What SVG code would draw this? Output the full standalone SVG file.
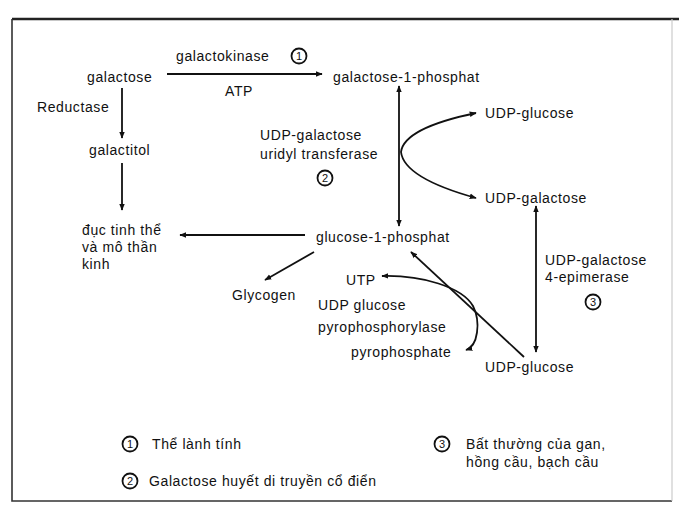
<svg xmlns="http://www.w3.org/2000/svg" width="679" height="509" viewBox="0 0 679 509">
<defs>
<marker id="ah" viewBox="0 0 10 10" refX="9" refY="5" markerWidth="7" markerHeight="7" markerUnits="userSpaceOnUse" orient="auto-start-reverse">
<path d="M0,1 L10,5 L0,9 Z" fill="#111"/>
</marker>
<style>
text{font-family:"Liberation Sans",Arial,sans-serif;font-size:14px;fill:#111;letter-spacing:0.6px}
.c{fill:none;stroke:#111;stroke-width:1.8}
.n{font-size:11px;text-anchor:middle;letter-spacing:0}
.e{fill:none;stroke:#111;stroke-width:1.8}
.s{marker-end:url(#ah)}
.d{marker-start:url(#ah);marker-end:url(#ah)}
</style>
</defs>
<rect width="679" height="509" fill="#fff"/>
<g id="frame" fill="none">
<path d="M12 19 H679" stroke="#222" stroke-width="2.5"/>
<path d="M12 19 V501 H672" stroke="#333" stroke-width="1.6"/>
<path d="M672 19 V501" stroke="#ccc" stroke-width="1.2"/>
</g>
<g id="connectors">
<path class="e s" d="M167 74 H322"/>
<path class="e s" d="M122 88 V138"/>
<path class="e s" d="M122 163 V210"/>
<path class="e s" d="M305 235 H180"/>
<path class="e d" d="M399 226 V86"/>
<path class="e d" d="M476 113 Q404 128 401 152 Q404 178 476 198"/>
<path class="e d" d="M536 352 V206"/>
<path class="e s" d="M314 252 L265 280"/>
<path class="e s" d="M524 357 L411 252"/>
<path class="e d" d="M466 350 C478 346 481 322 473 306 C462 287 422 275 382 276"/>
</g>
<g id="galactose"><text x="87" y="82">galactose</text></g>
<g id="galactokinase"><text x="176" y="61">galactokinase</text><circle class="c" cx="299" cy="56" r="7.5"/><text class="n" x="299" y="60">1</text></g>
<g id="atp"><text x="225" y="96">ATP</text></g>
<g id="galactose-1-phosphat"><text x="333" y="82">galactose-1-phosphat</text></g>
<g id="reductase"><text x="37" y="112">Reductase</text></g>
<g id="galactitol"><text x="89" y="155">galactitol</text></g>
<g id="duc-tinh-the"><text x="82" y="235">đục tinh thể</text><text x="82" y="252">và mô thần</text><text x="82" y="269">kinh</text></g>
<g id="glucose-1-phosphat"><text x="316" y="242">glucose-1-phosphat</text></g>
<g id="transferase"><text x="260" y="140">UDP-galactose</text><text x="260" y="159">uridyl transferase</text><circle class="c" cx="325" cy="178" r="7.5"/><text class="n" x="325" y="182">2</text></g>
<g id="udp-glucose-top"><text x="485" y="118">UDP-glucose</text></g>
<g id="udp-galactose"><text x="485" y="203">UDP-galactose</text></g>
<g id="epimerase"><text x="545" y="265">UDP-galactose</text><text x="545" y="282">4-epimerase</text><circle class="c" cx="593" cy="302" r="7.5"/><text class="n" x="593" y="306">3</text></g>
<g id="udp-glucose-bottom"><text x="485" y="372">UDP-glucose</text></g>
<g id="glycogen"><text x="232" y="300">Glycogen</text></g>
<g id="utp"><text x="346" y="285">UTP</text></g>
<g id="pyrophosphorylase"><text x="318" y="310">UDP glucose</text><text x="318" y="332">pyrophosphorylase</text></g>
<g id="pyrophosphate"><text x="351" y="357">pyrophosphate</text></g>
<g id="legend">
<circle class="c" cx="130" cy="444" r="7.5"/><text class="n" x="130" y="448">1</text><text x="152" y="449">Thể lành tính</text>
<circle class="c" cx="130" cy="481" r="7.5"/><text class="n" x="130" y="485">2</text><text x="149" y="486">Galactose huyết di truyền cổ điển</text>
<circle class="c" cx="442" cy="444" r="7.5"/><text class="n" x="442" y="448">3</text><text x="466" y="449">Bất thường của gan,</text><text x="466" y="467">hồng cầu, bạch cầu</text>
</g>
</svg>
